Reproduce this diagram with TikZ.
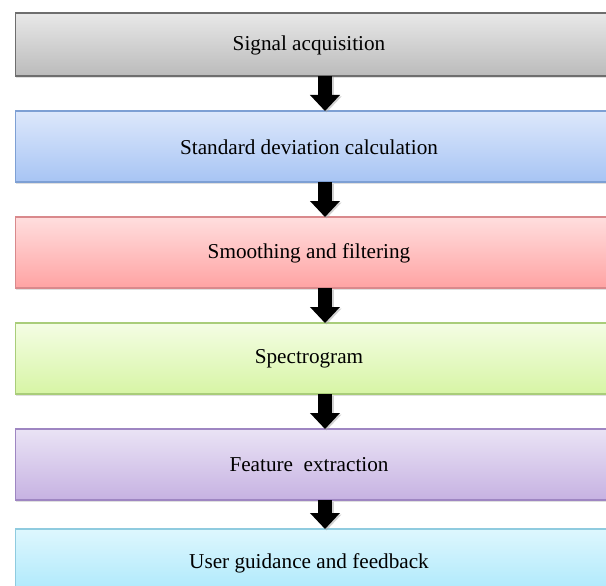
\documentclass[tikz,border=0pt]{standalone}
\usepackage{fontspec}
\setmainfont{Liberation Serif}
\usetikzlibrary{arrows.meta,shadows}
\definecolor{g1}{HTML}{E8E8E8}\definecolor{g2}{HTML}{BBBBBB}\definecolor{g3}{HTML}{6E6E6E}
\definecolor{bl1}{HTML}{DDE8FB}\definecolor{bl2}{HTML}{A7C4F4}\definecolor{bl3}{HTML}{7EA0D4}
\definecolor{r1}{HTML}{FFDEDE}\definecolor{r2}{HTML}{FFA3A3}\definecolor{r3}{HTML}{D9898C}
\definecolor{gr1}{HTML}{F4FDE4}\definecolor{gr2}{HTML}{D7F5A5}\definecolor{gr3}{HTML}{A9CD7A}
\definecolor{p1}{HTML}{EAE3F5}\definecolor{p2}{HTML}{C6B2E2}\definecolor{p3}{HTML}{9E86C2}
\definecolor{c1}{HTML}{DEF7FE}\definecolor{c2}{HTML}{A8E7FB}\definecolor{c3}{HTML}{8FCBDF}
\tikzset{
  box/.style={rectangle, draw, line width=1.4pt, minimum width=604.5pt, outer sep=0pt, inner sep=0pt,
    drop shadow={shadow xshift=0.8pt, shadow yshift=-2pt, opacity=0.25}},
  lbl/.style={font=\fontsize{21.2}{24}\selectfont, text=black, inner sep=0pt},
  flow/.style={line width=14.5pt, black, -{Triangle[width=29pt,length=16pt]}},
  flowshadow/.style={line width=14.5pt, black!35, opacity=0.5, -{Triangle[width=29pt,length=16pt]}}
}
\begin{document}
\begin{tikzpicture}[x=1pt,y=-1pt]
\useasboundingbox (0,0) rectangle (606,586);
\clip (0,0) rectangle (606,586);
\fill[white] (0,0) rectangle (606,586);
\node[box, minimum height=63pt, draw=g3, top color=g1, bottom color=g2] (b1) at (317.75,44.5) {};
\node[box, minimum height=71pt, draw=bl3, top color=bl1, bottom color=bl2] (b2) at (317.75,146.5) {};
\node[box, minimum height=71pt, draw=r3, top color=r1, bottom color=r2] (b3) at (317.75,252.5) {};
\node[box, minimum height=71pt, draw=gr3, top color=gr1, bottom color=gr2] (b4) at (317.75,358.5) {};
\node[box, minimum height=71pt, draw=p3, top color=p1, bottom color=p2] (b5) at (317.75,464.5) {};
\node[box, minimum height=71pt, draw=c3, top color=c1, bottom color=c2] (b6) at (317.75,564.5) {};
\node[lbl] (t1) at (309,45) {Signal acquisition};
\node[lbl] (t2) at (309,147) {Standard deviation calculation};
\node[lbl] (t3) at (309,253) {Smoothing and filtering};
\node[lbl] (t4) at (309,359) {Spectrogram};
\node[lbl] (t5) at (309,465) {Feature\ \ extraction};
\node[lbl] (t6) at (309,563) {User guidance and feedback};
\coordinate (ax) at (325,0);
\coordinate (as) at (326.5,0);
\foreach \a/\b in {b1/b2,b2/b3,b3/b4,b4/b5,b5/b6}{
  \draw[flowshadow] ([yshift=-1.5pt]\a.south -| as) -- ([yshift=-1.5pt]\b.north -| as);
  \draw[flow] (\a.south -| ax) -- (\b.north -| ax);
}
\end{tikzpicture}
\end{document}
